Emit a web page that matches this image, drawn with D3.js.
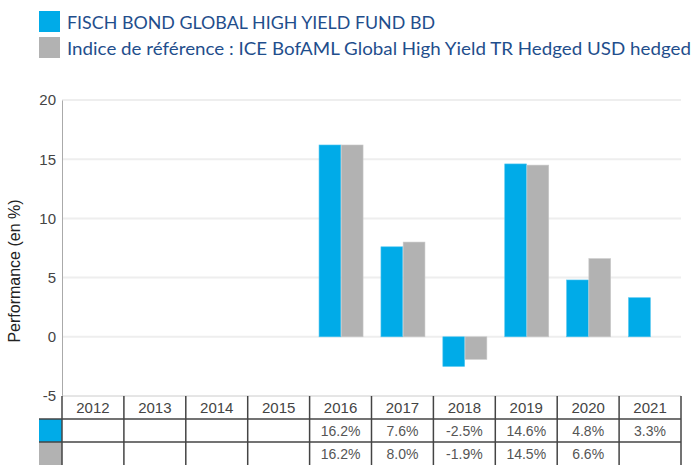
<!DOCTYPE html>
<html>
<head>
<meta charset="utf-8">
<script src="https://cdn.jsdelivr.net/npm/d3@7"></script>
<style>
  body { margin: 0; background: #fff; }
  svg { display: block; font-family: "Liberation Sans", Arial, sans-serif; }
</style>
</head>
<body>
<div id="chart"></div>
<script>
const years = ["2012", "2013", "2014", "2015", "2016", "2017", "2018", "2019", "2020", "2021"];
const seriesNames = ["FISCH BOND GLOBAL HIGH YIELD FUND BD",
    "Indice de référence : ICE BofAML Global High Yield TR Hedged USD hedged"];
const fundValues = [null, null, null, null, 16.2, 7.6, -2.5, 14.6, 4.8, 3.3];
const benchValues = [null, null, null, null, 16.2, 8.0, -1.9, 14.5, 6.6, null];
const yTicks = [-5, 0, 5, 10, 15, 20];

const colors = ["#00abe8", "#b2b2b2"];
const width = 694, height = 465;
const plotLeft = 62, plotRight = 681, plotTop = 100, plotBottom = 396;

const svg = d3.select("#chart").append("svg")
    .attr("width", width)
    .attr("height", height);

// legende
const legend = svg.append("g");
const legendWidths = [368, 624];
seriesNames.forEach((name, i) => {
    legend.append("rect")
        .attr("x", 39).attr("y", 11 + i * 26)
        .attr("width", 21).attr("height", 21)
        .attr("fill", colors[i]);
    legend.append("text")
        .attr("x", 67).attr("y", 29 + i * 26)
        .style("font-family", "Lato, 'Open Sans', sans-serif")
        .style("font-size", "18px")
        .attr("fill", "#1f4e8c")
        .attr("textLength", legendWidths[i])
        .attr("lengthAdjust", "spacingAndGlyphs")
        .text(name);
});

const x = d3.scaleBand().domain(years).range([plotLeft, plotRight]);
const y = d3.scaleLinear().domain([-5, 20]).range([plotBottom, plotTop]);

// grille
svg.append("g")
    .selectAll("line")
    .data(yTicks.filter(t => t > -5))
    .enter()
    .append("line")
    .attr("x1", plotLeft).attr("x2", plotRight)
    .attr("y1", d => y(d)).attr("y2", d => y(d))
    .attr("stroke", "#eeeeee")
    .attr("stroke-width", 2);

// axe Y
const yAxis = svg.append("g")
    .attr("transform", `translate(${plotLeft},0)`)
    .call(d3.axisLeft(y).tickValues(yTicks).tickFormat(d => String(d)).tickSize(0).tickPadding(6));
yAxis.select(".domain").attr("stroke", "#aaaaaa");
yAxis.selectAll("text")
    .style("font-family", "'Liberation Sans', Arial, sans-serif")
    .style("font-size", "15px")
    .attr("fill", "#444");

svg.append("text")
    .attr("transform", `translate(20, 271) rotate(-90)`)
    .attr("text-anchor", "middle")
    .style("font-size", "16px")
    .attr("fill", "#222")
    .text("Performance (en %)");

// barres
const inner = d3.scaleBand().domain([0, 1]).range([0, 44]).paddingInner(0.02);
const rows = [fundValues, benchValues];
const bars = svg.append("g");
rows.forEach((vals, s) => {
    bars.selectAll(null)
        .data(years.map((yr, i) => ({ year: yr, v: vals[i] })).filter(d => d.v !== null))
        .enter()
        .append("rect")
        .attr("x", d => x(d.year) + x.bandwidth() / 2 - 21.5 + inner(s))
        .attr("y", d => y(Math.max(0, d.v)))
        .attr("width", inner.bandwidth())
        .attr("height", d => Math.abs(y(d.v) - y(0)))
        .attr("fill", colors[s])
        .attr("stroke", s === 0 ? "#4cc3ef" : "#c8c8c8")
        .attr("stroke-width", 0.6);
});

// tableau
const rowTop = [396, 419, 442];
const rowH = 23;
const table = svg.append("g");
rows.forEach((vals, s) => {
    table.append("rect")
        .attr("x", 39).attr("y", rowTop[s + 1])
        .attr("width", plotLeft - 39).attr("height", rowH)
        .attr("fill", colors[s]);
});
table.append("g").selectAll("text")
    .data(years)
    .enter()
    .append("text")
    .attr("x", d => x(d) + x.bandwidth() / 2)
    .attr("y", rowTop[0] + rowH / 2 + 5)
    .attr("text-anchor", "middle")
    .style("font-size", "15px")
    .attr("fill", "#444")
    .text(d => d);
rows.forEach((vals, s) => {
    table.append("g").selectAll("text")
        .data(years.map((yr, i) => ({ year: yr, v: vals[i] })).filter(d => d.v !== null))
        .enter()
        .append("text")
        .attr("x", d => x(d.year) + x.bandwidth() / 2)
        .attr("y", rowTop[s + 1] + rowH / 2 + 5)
        .attr("text-anchor", "middle")
        .style("font-size", "14px")
        .attr("fill", "#555")
        .text(d => d.v.toFixed(1) + "%");
});

// lignes du tableau
const lineColor = "#444";
table.append("line")
    .attr("x1", plotLeft).attr("x2", plotRight)
    .attr("y1", 396).attr("y2", 396)
    .attr("stroke", "#cccccc");
[419, 442].forEach(ly => {
    table.append("line")
        .attr("x1", 39).attr("x2", plotRight)
        .attr("y1", ly).attr("y2", ly)
        .attr("stroke", lineColor).attr("stroke-width", 1.5);
});
table.selectAll(null)
    .data(years.map(d => x(d)).concat([plotRight]))
    .enter()
    .append("line")
    .attr("x1", d => d).attr("x2", d => d)
    .attr("y1", 396).attr("y2", height)
    .attr("stroke", lineColor).attr("stroke-width", 1.5);
</script>
</body>
</html>
